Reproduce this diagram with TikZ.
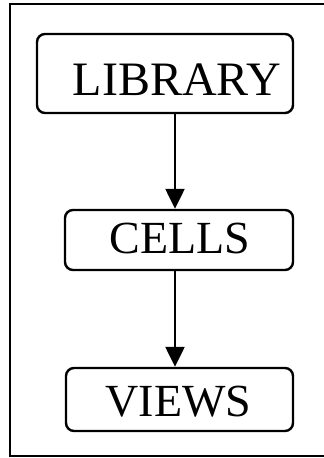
\documentclass[tikz,border=0pt]{standalone}
\usepackage{fontspec}
\setmainfont{Liberation Serif}
\usetikzlibrary{arrows.meta}
\begin{document}
\begin{tikzpicture}[x=1pt,y=-1pt,
  box/.style={draw=black, line width=2.4pt, rounded corners=8pt, inner sep=0pt},
  lbl/.style={inner sep=0pt, font=\fontsize{46}{50}\selectfont},
  conn/.style={line width=2.4pt, -{Triangle[length=20pt,width=19pt]}}]
\useasboundingbox (0,0) rectangle (324,458);
\fill[white] (0,0) rectangle (324,458);
\begin{scope}
\clip (0,0) rectangle (324,458);
\draw[line width=2.4pt] (340,4) -- (10,4) -- (10,456) -- (340,456);
\end{scope}
% boxes
\node[box, minimum width=256pt, minimum height=79pt] (lib) at (165,73.5) {};
\node[box, minimum width=228pt, minimum height=60pt] (cells) at (179,240) {};
\node[box, minimum width=227pt, minimum height=63pt] (views) at (179.5,399.5) {};
% texts
\node[lbl, font=\fontsize{48}{52}\selectfont] (libt) at (177,80) {LIBRARY};
\node[lbl] (cellst) at (180,238) {CELLS};
\node[lbl] (viewst) at (178.5,401.5) {VIEWS};
% connectors
\coordinate (ax) at (175,0);
\draw[conn] (lib.south -| ax) -- (cells.north -| ax);
\draw[conn] (cells.south -| ax) -- (views.north -| ax);
\end{tikzpicture}
\end{document}
